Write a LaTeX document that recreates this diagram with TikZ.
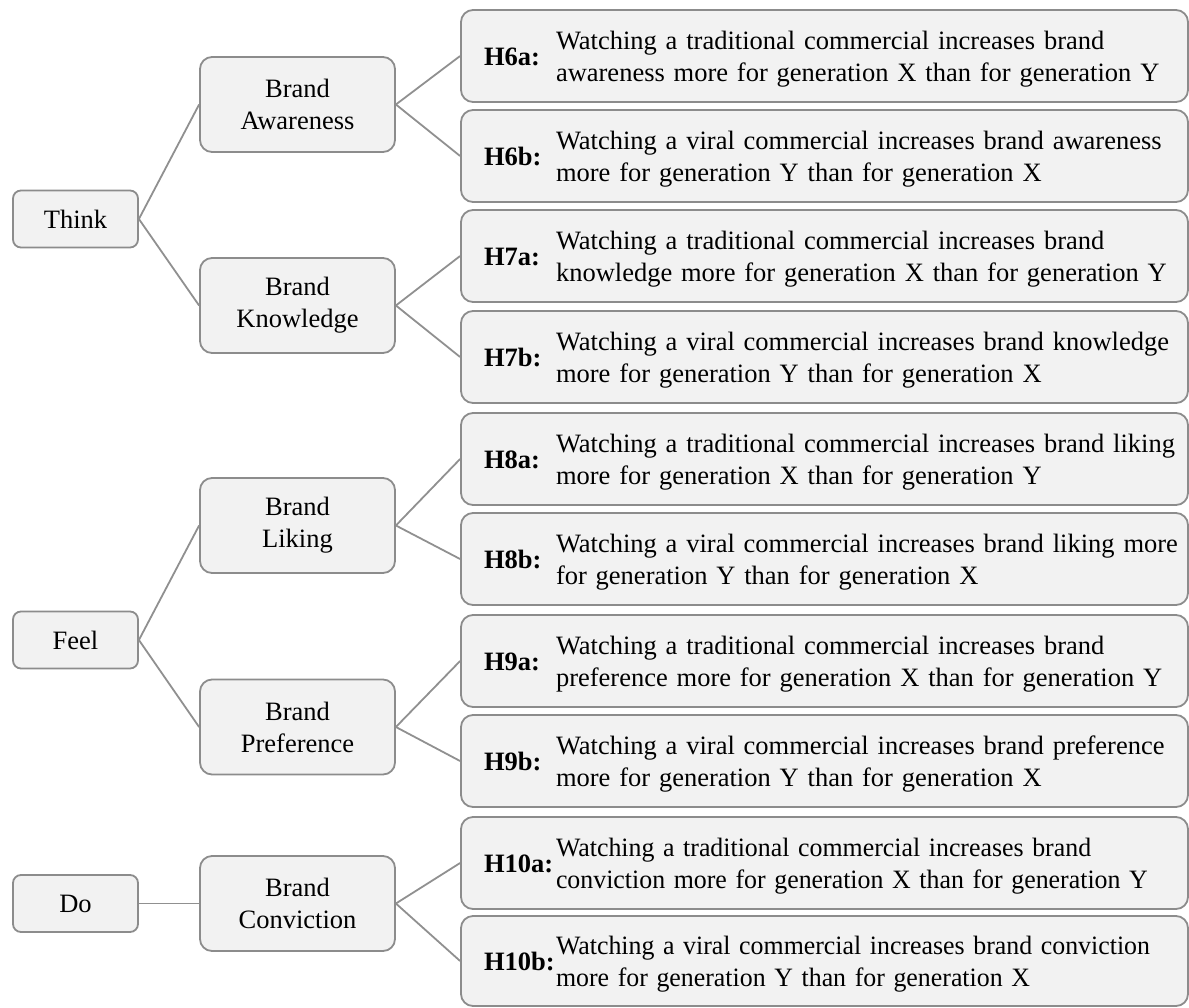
\documentclass[tikz,border=0pt]{standalone}
\usepackage{fontspec}
\usepackage{graphicx}
\setmainfont{Liberation Serif}
\definecolor{boxfill}{HTML}{F2F2F2}
\definecolor{boxline}{HTML}{8C8C8C}
\definecolor{conn}{HTML}{909090}
\newcommand\hyp[3]{\raisebox{-3pt}[\height][\depth]{\makebox[72pt][l]{\bfseries #1}\begin{tabular}[c]{@{}l@{}}#2\\#3\end{tabular}}}
\newcommand\hypc[3]{\raisebox{-3pt}[\height][\depth]{\makebox[72pt][l]{\bfseries #1}\scalebox{0.976}[1]{\begin{tabular}[c]{@{}l@{}}#2\\#3\end{tabular}}}}
\begin{document}
\begin{tikzpicture}[x=1pt,y=-1pt,
  every node/.style={font=\fontsize{26.5}{32}\selectfont},
  basebox/.style={draw=boxline, fill=boxfill, line width=1.8pt, inner sep=0pt},
  leftbox/.style={basebox, rounded corners=8pt, minimum width=125pt, minimum height=57pt},
  midbox/.style={basebox, rounded corners=12pt, minimum width=195pt, minimum height=95pt, align=center},
  hypbox/.style={basebox, rounded corners=12pt, minimum width=727pt, minimum height=92pt, inner xsep=23pt, text width=681pt, align=left},
  conline/.style={draw=conn, line width=1.8pt}
]
\useasboundingbox (0,0) rectangle (1189,1007);

% left nodes
\node[leftbox] (think) at (75.5,219) {Think};
\node[leftbox] (feel) at (75.5,640) {Feel};
\node[leftbox] (do) at (75.5,903.5) {Do};

% middle nodes
\node[midbox] (aware) at (297.5,104.5) {Brand\\Awareness};
\node[midbox] (know) at (297.5,305.5) {Brand\\Knowledge};
\node[midbox] (like) at (297.5,525.5) {Brand\\Liking};
\node[midbox] (pref) at (297.5,727) {Brand\\Preference};
\node[midbox] (conv) at (297.5,903.5) {Brand\\Conviction};

% hypothesis boxes
\node[hypbox] (h6a) at (824.5,56) {\hyp{H6a:}{Watching a traditional commercial increases brand}{awareness more for generation X than for generation Y}};
\node[hypbox] (h6b) at (824.5,156) {\hyp{H6b:}{Watching a viral commercial increases brand awareness}{more for generation Y than for generation X}};
\node[hypbox] (h7a) at (824.5,256) {\hyp{H7a:}{Watching a traditional commercial increases brand}{knowledge more for generation X than for generation Y}};
\node[hypbox] (h7b) at (824.5,357) {\hyp{H7b:}{Watching a viral commercial increases brand knowledge}{more for generation Y than for generation X}};
\node[hypbox] (h8a) at (824.5,459) {\hyp{H8a:}{Watching a traditional commercial increases brand liking}{more for generation X than for generation Y}};
\node[hypbox] (h8b) at (824.5,559) {\hyp{H8b:}{Watching a viral commercial increases brand liking more}{for generation Y than for generation X}};
\node[hypbox] (h9a) at (824.5,661) {\hyp{H9a:}{Watching a traditional commercial increases brand}{preference more for generation X than for generation Y}};
\node[hypbox] (h9b) at (824.5,761) {\hyp{H9b:}{Watching a viral commercial increases brand preference}{more for generation Y than for generation X}};
\node[hypbox] (h10a) at (824.5,863) {\hypc{H10a:}{Watching a traditional commercial increases brand}{conviction more for generation X than for generation Y}};
\node[hypbox, minimum height=90pt] (h10b) at (824.5,961) {\hypc{H10b:}{Watching a viral commercial increases brand conviction}{more for generation Y than for generation X}};

% connectors
\draw[conline] (think.east) -- (aware.west);
\draw[conline] (think.east) -- (know.west);
\draw[conline] (feel.east) -- (like.west);
\draw[conline] (feel.east) -- (pref.west);
\draw[conline] (do.east) -- (conv.west);
\draw[conline] (aware.east) -- (h6a.west);
\draw[conline] (aware.east) -- (h6b.west);
\draw[conline] (know.east) -- (h7a.west);
\draw[conline] (know.east) -- (h7b.west);
\draw[conline] (like.east) -- (h8a.west);
\draw[conline] (like.east) -- (h8b.west);
\draw[conline] (pref.east) -- (h9a.west);
\draw[conline] (pref.east) -- (h9b.west);
\draw[conline] (conv.east) -- (h10a.west);
\draw[conline] (conv.east) -- (h10b.west);
\end{tikzpicture}
\end{document}
